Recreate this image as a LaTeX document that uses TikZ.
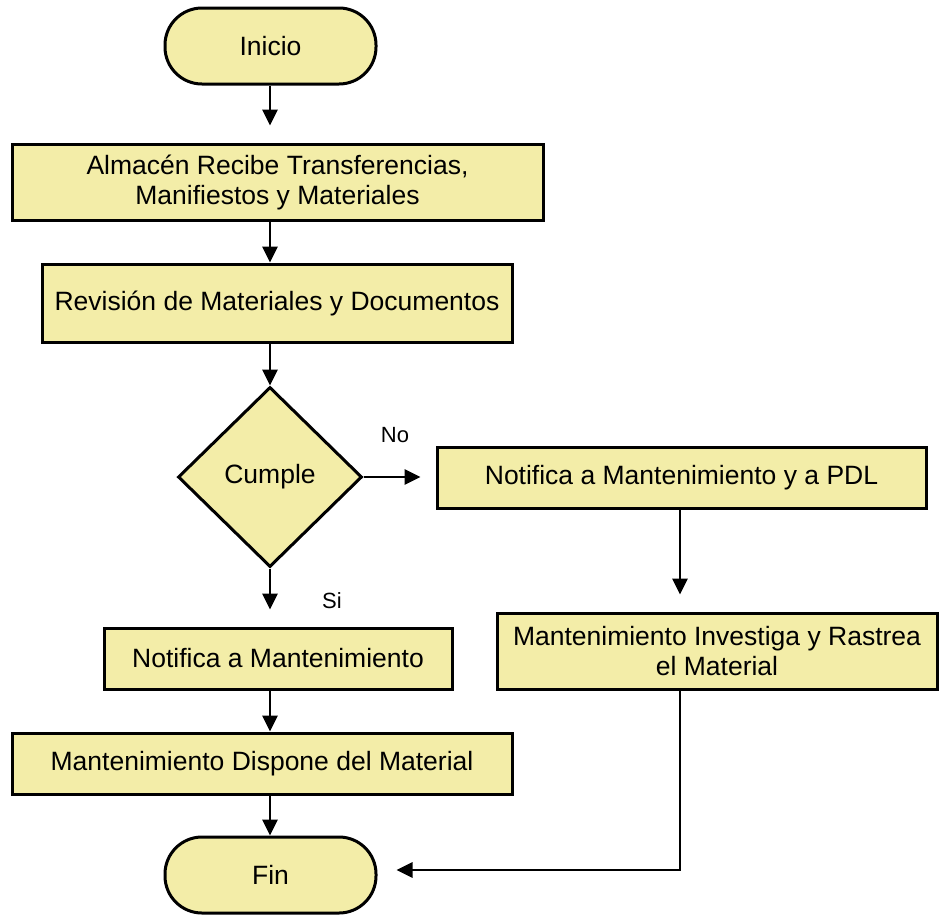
\documentclass[tikz,border=0pt]{standalone}
\usepackage{fontspec}
\setmainfont{Liberation Sans}
\usetikzlibrary{arrows.meta,shapes.geometric}
\definecolor{boxfill}{RGB}{243,237,168}
\tikzset{
  base/.style={draw=black, line width=3pt, fill=boxfill, inner sep=0pt, align=center,
    font=\fontsize{26.5}{30}\selectfont},
  procbox/.style={base, rectangle},
  termbox/.style={base, rectangle, rounded corners=37pt, minimum width=211pt, minimum height=76pt},
  decbox/.style={base, diamond, aspect=1.02, minimum width=184pt, minimum height=180pt},
  flow/.style={line width=2.8pt, -{Triangle[length=16pt,width=15pt]}},
  lbl/.style={font=\fontsize{22}{26}\selectfont}
}
\begin{document}
\begin{tikzpicture}[x=1pt,y=-1pt]
\useasboundingbox (0,0) rectangle (942,914);
\node[termbox] (inicio) at (270.5,46) {Inicio};
\node[procbox, minimum width=531pt, minimum height=76pt] (recibe) at (277.5,182) {Almacén Recibe Transferencias,\\Manifiestos y Materiales};
\node[procbox, minimum width=470pt, minimum height=78pt] (revision) at (277,303) {Revisión de Materiales y Documentos};
\node[decbox] (cumple) at (270,477) {Cumple};
\node[procbox, minimum width=489pt, minimum height=61pt] (notpdl) at (681.5,477.5) {Notifica a Mantenimiento y a PDL};
\node[procbox, minimum width=440pt, minimum height=76pt] (investiga) at (717,651) {Mantenimiento Investiga y Rastrea\\el Material};
\node[procbox, minimum width=348pt, minimum height=61pt] (notmant) at (278,658.5) {Notifica a Mantenimiento};
\node[procbox, minimum width=500pt, minimum height=61pt] (dispone) at (262,763.5) {Mantenimiento Dispone del Material};
\node[termbox] (fin) at (270.5,875) {Fin};
\node[lbl] (no) at (395,435) {No};
\node[lbl] (si) at (332,601) {Si};
\coordinate (corner) at (680,870);

\draw[flow, shorten >=17pt] (inicio.south -| 270,0) -- (recibe.north -| 270,0);
\draw[flow] (recibe.south -| 270,0) -- (revision.north -| 270,0);
\draw[flow] (revision.south -| 270,0) -- (cumple.north);
\draw[flow, shorten >=15pt] (cumple.east) -- (notpdl.west |- cumple.east);
\draw[flow, shorten >=17pt] (cumple.south) -- (notmant.north -| cumple.south);
\draw[flow, shorten >=17pt] (notpdl.south -| 680,0) -- (investiga.north -| 680,0);
\draw[flow] (notmant.south -| 270,0) -- (dispone.north -| 270,0);
\draw[flow] (dispone.south -| 270,0) -- (fin.north -| 270,0);
\draw[flow, shorten >=19pt] (investiga.south -| corner) -- (corner) -- (fin.east |- corner);
\end{tikzpicture}
\end{document}
